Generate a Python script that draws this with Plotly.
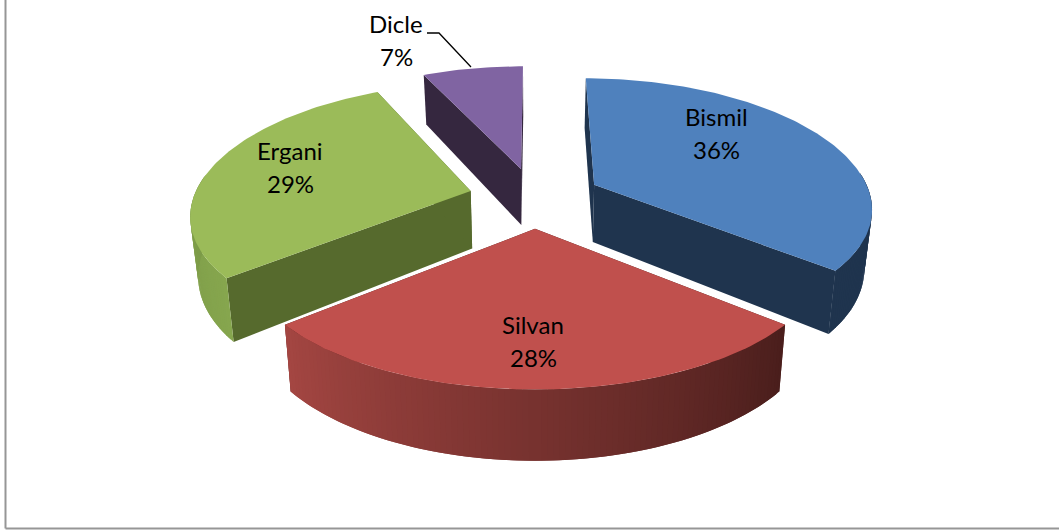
import math
import plotly.graph_objects as go

# ---- data ----
categories = ["Bismil", "Silvan", "Ergani", "Dicle"]
values = [36, 28, 29, 7]

# ---- styles ----
top_colors = ["#4F81BD", "#C0504D", "#9BBB59", "#8064A2"]
wall_colors = ["#1F344E", "#4B1E1C", "#566A2D", "#35273F"]
arc_start_colors = [(31, 52, 78), (164, 70, 66), (122, 152, 70), (53, 39, 63)]
arc_end_colors = [(31, 52, 78), (74, 30, 28), (134, 166, 78), (53, 39, 63)]
label_pos = [(716, 116.5, 149.5), (533, 324.5, 357.5), (290, 150.5, 183.5), (396, 23.5, 56.5)]
leader_x = [427, 439, 471]
leader_y = [33, 33, 67]

# ---- projection of the tilted pie onto the page ----
X0, Y0, SX, SY, PERSP, PERSP_X = 535.0, 197.5, 277.0, 126.0, 0.15, 0.167
EXPLODE, DEPTH, SHRINK = 0.24, 58.0, 0.977


def project(x, z, lower=False):
    w = 1 - PERSP * z
    px = SX * x / (1 - PERSP_X * z)
    py = Y0 + SY * z / w
    if lower:
        px *= SHRINK
        py += DEPTH / w
    return X0 + px, py


def mix(a, b, t):
    return "rgb(%d,%d,%d)" % tuple(round(a[i] + (b[i] - a[i]) * t) for i in range(3))


fig = go.Figure()


def poly(xy, color):
    xs = [p[0] for p in xy] + [xy[0][0]]
    ys = [p[1] for p in xy] + [xy[0][1]]
    fig.add_trace(go.Scatter(
        x=xs, y=ys, mode="lines", fill="toself", fillcolor=color,
        line=dict(color=color, width=0), hoverinfo="skip", showlegend=False))


total = sum(values)
start = 0.0
slices = []
for i, v in enumerate(values):
    sweep = 360.0 * v / total
    slices.append((i, start, start + sweep))
    start += sweep

# far slices first
for i, a0, a1 in sorted(slices, key=lambda s: -math.cos(math.radians((s[1] + s[2]) / 2))):
    mid = math.radians((a0 + a1) / 2)
    ex, ez = EXPLODE * math.sin(mid), -EXPLODE * math.cos(mid)
    n = max(4, int(a1 - a0))
    angles = [a0 + (a1 - a0) * k / n for k in range(n + 1)]
    rim = [(ex + math.sin(math.radians(a)), ez - math.cos(math.radians(a))) for a in angles]

    # radial walls
    for a_rim in (rim[0], rim[-1]):
        poly([project(ex, ez), project(*a_rim), project(*a_rim, lower=True), project(ex, ez, lower=True)],
             wall_colors[i])

    # outer rim, only the part that faces the viewer; strips overlap to hide seams
    vis = [k for k in range(n) if 84 <= angles[k] <= 276]
    for j, k in enumerate(vis):
        t = j / max(1, len(vis) - 1)
        if i in (1, 2):
            color = mix(arc_end_colors[i], arc_start_colors[i], t)
        else:
            color = mix(arc_start_colors[i], arc_end_colors[i], t)
        span = rim[k:min(k + 3, n + 1)]
        poly([project(*p) for p in span] + [project(*p, lower=True) for p in reversed(span)], color)

    # top face
    poly([project(ex, ez)] + [project(*p) for p in rim], top_colors[i])

# leader line of the smallest slice
fig.add_trace(go.Scatter(x=leader_x, y=leader_y, mode="lines",
                         line=dict(color="#000000", width=1.3),
                         hoverinfo="skip", showlegend=False))

annotations = []
for name, v, (lx, ly1, ly2) in zip(categories, values, label_pos):
    for text, ly in ((name, ly1), (f"{v}%", ly2)):
        annotations.append(dict(x=lx, y=ly, text=text, showarrow=False, xref="x", yref="y",
                                xanchor="center", yanchor="middle",
                                font=dict(family="Lato, Carlito, sans-serif", size=24, color="#000000")))

frame = "#969696"
shapes = [
    dict(type="line", xref="x", yref="y", x0=5.5, x1=5.5, y0=0, y1=528.5, line=dict(color=frame, width=2)),
    dict(type="line", xref="x", yref="y", x0=5.5, x1=1059, y0=528.5, y1=528.5, line=dict(color=frame, width=2)),
]

fig.update_layout(
    width=1059, height=531, margin=dict(l=0, r=0, t=0, b=0),
    paper_bgcolor="#FFFFFF", plot_bgcolor="#FFFFFF", showlegend=False,
    xaxis=dict(range=[0, 1059], visible=False, fixedrange=True),
    yaxis=dict(range=[531, 0], visible=False, fixedrange=True),
    annotations=annotations, shapes=shapes,
)

fig.write_html("out.html", config=dict(displayModeBar=False),
               post_script="document.body.style.margin='0';")
